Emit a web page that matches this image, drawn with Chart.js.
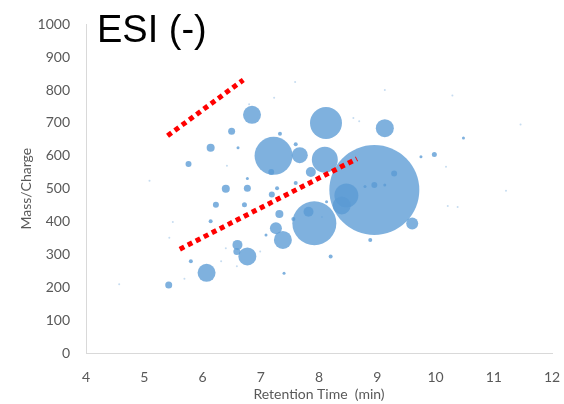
<!DOCTYPE html>
<html>
<head>
<meta charset="utf-8">
<script src="https://cdn.jsdelivr.net/npm/chart.js@4/dist/chart.umd.min.js"></script>
<style>
    body { margin: 0; background: #fff; }
    #wrap { position: relative; width: 564px; height: 404px; }
    #title {
        position: absolute; left: 97px; top: 10px;
        font-family: "Liberation Sans", Arial, sans-serif;
        font-size: 38px; line-height: 38px; color: #000;
    }
</style>
</head>
<body>
<div id="wrap">
    <canvas id="esiChart" width="564" height="404"></canvas>
    <div id="title">ESI (-)</div>
</div>
<script>
// --- Data ---
// Retention time (min), mass/charge, bubble size (radius)
const peakRt   = [8.95, 7.92, 7.22, 8.12, 8.10, 8.47, 8.39, 6.85, 9.13, 7.38, 6.77, 6.07, 7.67, 9.60, 7.26, 7.86, 7.82, 6.60,
                  6.14, 6.40, 7.32, 6.77, 6.50, 5.42, 6.59, 5.76, 6.23, 7.19, 9.29, 8.95, 7.18, 6.72, 9.98, 7.33, 7.60, 7.28,
                  6.14, 7.60, 5.80, 8.20, 8.88, 7.56, 9.75, 10.48, 7.40, 7.09, 8.13, 6.61, 6.77, 8.79, 9.13];
const peakMz   = [496, 395, 600, 700, 588, 479, 449, 725, 684, 344, 294, 244, 602, 394, 380, 551, 430, 329,
                  625, 500, 423, 501, 675, 207, 309, 575, 451, 482, 546, 511, 551, 451, 604, 667, 635, 501,
                  401, 517, 279, 294, 344, 408, 597, 654, 243, 359, 460, 625, 531, 507, 511];
const peakSize = [45, 22, 19, 16, 13, 12, 9, 9, 9, 9, 9, 9, 8, 6, 6, 5, 5, 5,
                  4, 4, 4, 3.5, 3.5, 3.5, 3.5, 3, 3, 3, 3, 3, 3, 2.5, 2.5, 2, 2, 2,
                  2, 2, 2, 2, 2, 2, 1.5, 1.5, 1.5, 1.5, 1.5, 1.5, 1.5, 1.5, 1.5];

// very faint minor features
const minorRt = [7.59, 7.23, 5.09, 6.80, 8.59, 8.69, 4.57, 5.69, 6.42, 6.40, 5.49, 5.43, 6.99, 6.59, 6.32, 10.29, 11.46, 11.21, 10.21, 10.38, 10.18, 9.13, 8.05];
const minorMz = [825, 777, 524, 757, 715, 705, 209, 226, 570, 319, 399, 351, 309, 264, 279, 784, 695, 494, 447, 444, 567, 800, 414];

// red dotted guide lines
const upperLineRt = [5.40, 6.70];
const upperLineMz = [661, 831];
const lowerLineRt = [5.61, 8.65];
const lowerLineMz = [316, 591];

const xTicks = [4, 5, 6, 7, 8, 9, 10, 11, 12];
const yTicks = [0, 100, 200, 300, 400, 500, 600, 700, 800, 900, 1000];

const toPoints = (xs, ys) => xs.map((x, i) => ({ x: x, y: ys[i] }));

const peaks = peakRt.map((x, i) => ({ x: x, y: peakMz[i], r: peakSize[i] }));
const minors = minorRt.map((x, i) => ({ x: x, y: minorMz[i], r: 1 }));

// bubble charts reserve padding for the biggest radius; we want a fixed plot area instead
Chart.BubbleController.prototype.getMaxOverflow = function () { return false; };

const guideLine = (xs, ys) => ({
    type: 'line',
    data: toPoints(xs, ys),
    borderColor: '#ff0000',
    borderWidth: 5,
    borderDash: [5, 4],
    borderCapStyle: 'butt',
    pointRadius: 0,
    fill: false,
    order: 0
});

const fontFamily = 'Lato, "Open Sans", sans-serif';
const axisFont = { family: fontFamily, size: 14 };
const titleFont = { family: fontFamily, size: 14 };
const plain = (v) => String(v);

new Chart(document.getElementById('esiChart'), {
    type: 'bubble',
    data: {
        datasets: [
            guideLine(upperLineRt, upperLineMz),
            guideLine(lowerLineRt, lowerLineMz),
            {
                data: peaks,
                backgroundColor: 'rgba(91, 155, 213, 0.78)',
                borderWidth: 0,
                order: 1
            },
            {
                data: minors,
                backgroundColor: 'rgba(91, 155, 213, 0.35)',
                borderWidth: 0,
                order: 2
            }
        ]
    },
    options: {
        responsive: false,
        animation: false,
        layout: { padding: { top: 20, right: 12, bottom: 0, left: 0 } },
        plugins: {
            legend: { display: false },
            tooltip: { enabled: false }
        },
        scales: {
            x: {
                type: 'linear',
                min: xTicks[0],
                max: xTicks[xTicks.length - 1],
                afterBuildTicks: (scale) => { scale.ticks = xTicks.map(v => ({ value: v })); },
                grid: { display: false, drawTicks: false },
                border: { display: true, color: '#d9d9d9', width: 1 },
                ticks: { color: '#595959', font: axisFont, padding: 16, callback: plain },
                title: {
                    display: true,
                    text: 'Retention Time  (min)',
                    color: '#595959',
                    font: titleFont,
                    padding: { top: 0, bottom: 1 }
                },
                afterFit: (scale) => {
                    scale.height = 51;
                    scale.paddingLeft = 0;
                    scale.paddingRight = 0;
                }
            },
            y: {
                type: 'linear',
                min: yTicks[0],
                max: yTicks[yTicks.length - 1],
                afterBuildTicks: (scale) => { scale.ticks = yTicks.map(v => ({ value: v })); },
                grid: { display: false, drawTicks: false },
                border: { display: true, color: '#d9d9d9', width: 1 },
                ticks: { color: '#595959', font: axisFont, padding: 16, callback: plain },
                title: {
                    display: true,
                    text: 'Mass/Charge',
                    color: '#595959',
                    font: titleFont,
                    padding: { top: 18, bottom: 0 }
                },
                afterFit: (scale) => { scale.width = 86; }
            }
        }
    }
});
</script>
</body>
</html>
